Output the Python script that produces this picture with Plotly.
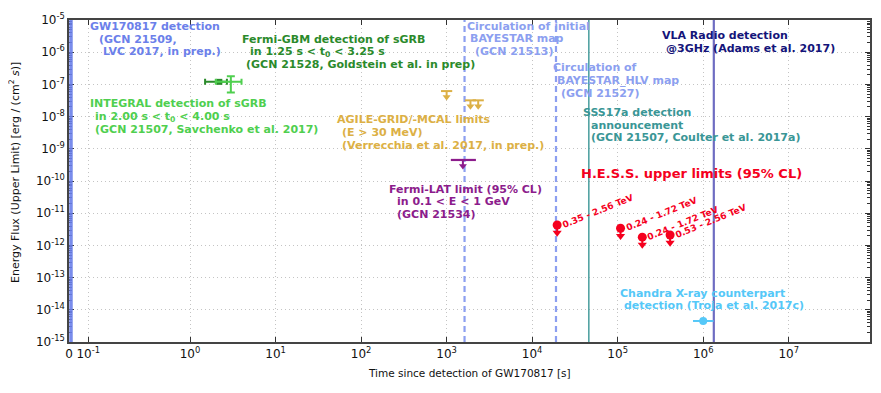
import numpy as np
import plotly.graph_objects as go

# ---------------- data ----------------
gw_time = 0.0                       # GW170817 trigger (t = 0, left edge of the axis)
bayestar_times = [1620.0, 1.9e4]    # circulation of BAYESTAR maps [s]
sss17a_time = 4.6e4                 # SSS17a announcement [s]
vla_time = 1.33e6                   # VLA radio detection [s]

gbm_t = [2.2]
gbm_t_lo = [1.5]
gbm_t_hi = [2.7]
gbm_flux = [1.2e-7]

integral_t = [3.0]
integral_t_lo = [2.0]
integral_t_hi = [4.0]
integral_flux = [1.2e-7]
integral_flux_lo = [5.6e-8]
integral_flux_hi = [1.8e-7]

agile_t = [1000.0, 1900.0, 2340.0]
agile_flux = [6.2e-8, 3.2e-8, 3.2e-8]

lat_t = [1550.0]
lat_t_lo = [1120.0]
lat_t_hi = [2200.0]
lat_flux = [4.5e-10]

hess_t = [1.96e4, 1.08e5, 1.94e5, 4.1e5]
hess_flux = [4.3e-12, 3.4e-12, 1.8e-12, 2.1e-12]
hess_labels = ["0.35 - 2.56 TeV", "0.24 - 1.72 TeV", "0.24 - 1.72 TeV", "0.53 - 2.56 TeV"]

chandra_t = [1.0e6]
chandra_t_lo = [7.6e5]
chandra_t_hi = [1.32e6]
chandra_flux = [4.5e-15]

y_exponents = list(range(-15, -4))
x_exponents = list(range(0, 8))

# ---------------- styling / layout constants ----------------
OFF = 8                      # default page (body) margin of the html page
W, H = 865, 377
PLOT_L, PLOT_R, PLOT_T, PLOT_B = 69, 870, 20, 342   # plot area in window pixels
ML, MT = PLOT_L - OFF, PLOT_T - OFF
MR, MB = W - (PLOT_R - OFF), H - (PLOT_B - OFF)
PW, PH = PLOT_R - PLOT_L, PLOT_B - PLOT_T
X_RANGE = [-1.415, 7.95]     # log10 seconds; left edge stands for t = 0 (symlog-like axis)
Y_RANGE = [-15, -5]
FONT = "DejaVu Sans"

C_GW = "#6b80ea"
C_BAY = "#8c9ff0"
C_SSS = "#3a9696"
C_VLA = "#6e6cc2"
C_VLA_TXT = "#14147a"
C_GBM = "#2b8a2b"
C_INT = "#4fcf4f"
C_AGILE = "#dcb045"
C_LAT = "#8c1c8c"
C_HESS = "#f5001e"
C_CHANDRA = "#55c8f8"

fig = go.Figure()
y_lo, y_hi = 10.0 ** Y_RANGE[0], 10.0 ** Y_RANGE[1]


def vline(t, color, width, dash="solid", opacity=1.0):
    fig.add_trace(go.Scatter(x=[t, t], y=[y_lo, y_hi], mode="lines",
                             line=dict(color=color, width=width, dash=dash),
                             opacity=opacity, hoverinfo="skip", showlegend=False))


# GW detection at t = 0 -> drawn at the left edge of the axis
fig.add_shape(type="line", xref="x domain", yref="paper", x0=0.0025, x1=0.0025, y0=0, y1=1,
              line=dict(color=C_GW, width=3.5), opacity=0.9)

for t in bayestar_times:
    vline(t, C_BAY, 2.2, dash="6px,4px")
vline(sss17a_time, C_SSS, 1.4)
vline(vla_time, C_VLA, 2.2)

# Fermi-GBM
fig.add_trace(go.Scatter(
    x=gbm_t, y=gbm_flux, mode="markers",
    marker=dict(symbol="square", size=6, color=C_GBM),
    error_x=dict(type="data", symmetric=False,
                 array=[h - t for h, t in zip(gbm_t_hi, gbm_t)],
                 arrayminus=[t - l for l, t in zip(gbm_t_lo, gbm_t)],
                 color=C_GBM, thickness=2, width=3),
    showlegend=False, hoverinfo="skip"))

# INTEGRAL
fig.add_trace(go.Scatter(
    x=integral_t, y=integral_flux, mode="markers",
    marker=dict(size=3, color=C_INT),
    error_x=dict(type="data", symmetric=False,
                 array=[h - t for h, t in zip(integral_t_hi, integral_t)],
                 arrayminus=[t - l for l, t in zip(integral_t_lo, integral_t)],
                 color=C_INT, thickness=2, width=3),
    error_y=dict(type="data", symmetric=False,
                 array=[h - f for h, f in zip(integral_flux_hi, integral_flux)],
                 arrayminus=[f - l for l, f in zip(integral_flux_lo, integral_flux)],
                 color=C_INT, thickness=2, width=4),
    showlegend=False, hoverinfo="skip"))


def upper_limit_arrows(ts, fs, color, drop, head_size, line_w=2):
    xs, ys = [], []
    for t, f in zip(ts, fs):
        xs += [t, t, None]
        ys += [f, f * drop, None]
    fig.add_trace(go.Scatter(x=xs, y=ys, mode="lines", line=dict(color=color, width=line_w),
                             showlegend=False, hoverinfo="skip"))
    fig.add_trace(go.Scatter(x=ts, y=[f * drop for f in fs], mode="markers",
                             marker=dict(symbol="triangle-down", size=head_size, color=color,
                                         line=dict(width=0)),
                             showlegend=False, hoverinfo="skip"))


# AGILE upper limits
fig.add_trace(go.Scatter(x=agile_t, y=agile_flux, mode="markers",
                         marker=dict(symbol="line-ew", size=8, color=C_AGILE,
                                     line=dict(color=C_AGILE, width=2)),
                         showlegend=False, hoverinfo="skip"))
upper_limit_arrows(agile_t, agile_flux, C_AGILE, 0.65, 7)

# Fermi-LAT upper limit
fig.add_trace(go.Scatter(
    x=lat_t, y=lat_flux, mode="markers", marker=dict(size=1, color=C_LAT),
    error_x=dict(type="data", symmetric=False,
                 array=[h - t for h, t in zip(lat_t_hi, lat_t)],
                 arrayminus=[t - l for l, t in zip(lat_t_lo, lat_t)],
                 color=C_LAT, thickness=2.2, width=0),
    showlegend=False, hoverinfo="skip"))
upper_limit_arrows(lat_t, lat_flux, C_LAT, 0.65, 7)

# H.E.S.S. upper limits
upper_limit_arrows(hess_t, hess_flux, C_HESS, 0.577, 8)
fig.add_trace(go.Scatter(x=hess_t, y=hess_flux, mode="markers",
                         marker=dict(symbol="circle", size=9, color=C_HESS),
                         showlegend=False, hoverinfo="skip"))

# Chandra
fig.add_trace(go.Scatter(
    x=chandra_t, y=chandra_flux, mode="markers",
    marker=dict(symbol="circle", size=8, color=C_CHANDRA),
    error_x=dict(type="data", symmetric=False,
                 array=[h - t for h, t in zip(chandra_t_hi, chandra_t)],
                 arrayminus=[t - l for l, t in zip(chandra_t_lo, chandra_t)],
                 color=C_CHANDRA, thickness=2, width=0),
    showlegend=False, hoverinfo="skip"))

# H.E.S.S. energy-range labels, attached to their points
for t, f, lab in zip(hess_t, hess_flux, hess_labels):
    fig.add_annotation(x=np.log10(t), y=np.log10(f), xref="x", yref="y",
                       text=f"<b>{lab}</b>", showarrow=False, textangle=-22,
                       xanchor="center", yanchor="middle", xshift=41, yshift=14,
                       font=dict(family=FONT, size=9, color=C_HESS))


# ---------------- text blocks ----------------
def px2paper(px, py):
    return (px - PLOT_L) / PW, 1 - (py - PLOT_T) / PH


def text_block(lines, color, size=11, bold=True):
    for txt, px, py in lines:
        xp, yp = px2paper(px, py)
        fig.add_annotation(x=xp, y=yp, xref="paper", yref="paper",
                           text=f"<b>{txt}</b>" if bold else txt,
                           showarrow=False, xanchor="left", yanchor="middle",
                           font=dict(family=FONT, size=size, color=color))


text_block([("GW170817 detection", 88, 26),
            ("(GCN 21509,", 97, 39.3),
            ("LVC 2017, in prep.)", 101, 52)], C_GW)
text_block([("Fermi-GBM detection of sGRB", 240, 39.3),
            ("in 1.25 s &lt; t<sub>0</sub> &lt; 3.25 s", 248, 52.3),
            ("(GCN 21528, Goldstein et al. in prep)", 244, 65)], C_GBM)
text_block([("INTEGRAL detection of sGRB", 88, 103.3),
            ("in 2.00 s &lt; t<sub>0</sub> &lt; 4.00 s", 92.7, 116.7),
            ("(GCN 21507, Savchenko et al. 2017)", 92.7, 129.3)], C_INT)
text_block([("AGILE-GRID/-MCAL limits", 335, 119.3),
            ("(E &gt; 30 MeV)", 340, 132.3),
            ("(Verrecchia et al. 2017, in prep.)", 340, 145)], C_AGILE)
text_block([("Fermi-LAT limit (95% CL)", 387.3, 189),
            ("in 0.1 &lt; E &lt; 1 GeV", 395.3, 201.7),
            ("(GCN 21534)", 395.3, 214)], C_LAT)
text_block([("Circulation of initial", 465, 26),
            ("BAYESTAR map", 468.3, 39),
            ("(GCN 21513)", 472.7, 51.7)], C_BAY)
text_block([("Circulation of", 551, 67.7),
            ("BAYESTAR_HLV map", 555.3, 80.7),
            ("(GCN 21527)", 559.3, 93.3)], C_BAY)
text_block([("SSS17a detection", 581, 112.3),
            ("announcement", 589.3, 125),
            ("(GCN 21507, Coulter et al. 2017a)", 589.3, 137.3)], C_SSS)
text_block([("VLA Radio detection", 660, 35.7),
            ("@3GHz (Adams et al. 2017)", 664.3, 48.3)], C_VLA_TXT)
text_block([("H.E.S.S. upper limits (95% CL)", 579.3, 173.3)], C_HESS, size=13)
text_block([("Chandra X-ray counterpart", 618.3, 293.3),
            ("detection (Troja et al. 2017c)", 622, 305.7)], C_CHANDRA)

# axis titles
xp, yp = px2paper(15, 173)
fig.add_annotation(x=xp, y=yp, xref="paper", yref="paper", showarrow=False, textangle=-90,
                   text="Energy Flux (Upper Limit) [erg / (cm<sup>2</sup> <i>s</i>)]",
                   xanchor="center", yanchor="middle",
                   font=dict(family=FONT, size=11, color="#111"))
xp, yp = px2paper(469, 373)
fig.add_annotation(x=xp, y=yp, xref="paper", yref="paper", showarrow=False,
                   text="Time since detection of GW170817 [s]",
                   xanchor="center", yanchor="middle",
                   font=dict(family=FONT, size=10.5, color="#111"))

# ---------------- axes ----------------
x_tickvals = [10 ** X_RANGE[0], 10 ** -1.19] + [10.0 ** e for e in x_exponents]
x_ticktext = ["0", "10<sup>-1</sup>"] + [f"10<sup>{e}</sup>" for e in x_exponents]
y_tickvals = [10.0 ** e for e in y_exponents]
y_ticktext = [f"10<sup>{e}</sup>" for e in y_exponents]
y_minor = [k * 10.0 ** e for e in y_exponents[:-1] for k in range(2, 10)]

axis_common = dict(showline=True, linecolor="#444", linewidth=1.5, mirror="allticks",
                   ticks="inside", ticklen=5, tickwidth=1, tickcolor="#333",
                   showgrid=True, gridcolor="#c4c4c4", griddash="1px,3px", gridwidth=1,
                   zeroline=False, automargin=False,
                   tickfont=dict(family=FONT, size=12, color="#111"))

fig.update_xaxes(type="log", range=X_RANGE, tickmode="array",
                 tickvals=x_tickvals, ticktext=x_ticktext, **axis_common)
fig.update_yaxes(type="log", range=Y_RANGE, tickmode="array",
                 tickvals=y_tickvals, ticktext=y_ticktext,
                 minor=dict(tickmode="array", tickvals=y_minor, ticks="inside",
                            ticklen=3, tickcolor="#333", showgrid=False),
                 **axis_common)

fig.update_layout(width=W, height=H, autosize=False,
                  margin=dict(l=ML, r=MR, t=MT, b=MB, pad=0, autoexpand=False),
                  plot_bgcolor="white", paper_bgcolor="white",
                  showlegend=False, font=dict(family=FONT))

fig.write_html("out.html")
